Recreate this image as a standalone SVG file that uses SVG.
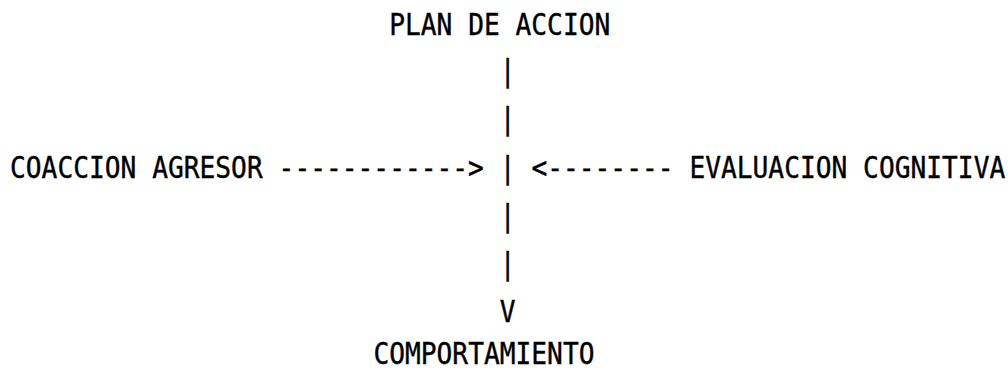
<svg xmlns="http://www.w3.org/2000/svg" width="1008" height="372" viewBox="0 0 1008 372">
<style>
text{font-family:"DejaVu Sans Mono","Liberation Mono",monospace;font-size:26.24px;fill:#000;stroke:#000;stroke-width:0.35px;}
</style>
<rect width="1008" height="372" fill="#fff"/>
<g id="node-plan"><text transform="translate(389.2,35) scale(1,1.15)">PLAN DE ACCION</text></g>
<g id="node-coaccion"><text transform="translate(10,178) scale(1,1.15)">COACCION AGRESOR</text></g>
<g id="node-evaluacion"><text transform="translate(689.4,178) scale(1,1.15)">EVALUACION COGNITIVA</text></g>
<g id="node-comportamiento"><text transform="translate(373.4,364) scale(1,1.15)">COMPORTAMIENTO</text></g>
<g id="connectors">
<text transform="translate(278.6,178) scale(1,1.15)">------------&gt;</text>
<text transform="translate(531.4,178) scale(1,1.15)">&lt;--------</text>
<text transform="translate(499.8,81) scale(1,1.15)">|</text>
<text transform="translate(499.8,129) scale(1,1.15)">|</text>
<text transform="translate(499.8,178) scale(1,1.15)">|</text>
<text transform="translate(499.8,226) scale(1,1.15)">|</text>
<text transform="translate(499.8,274) scale(1,1.15)">|</text>
<text transform="translate(499.8,322) scale(1,1.15)">V</text>
</g>
</svg>
